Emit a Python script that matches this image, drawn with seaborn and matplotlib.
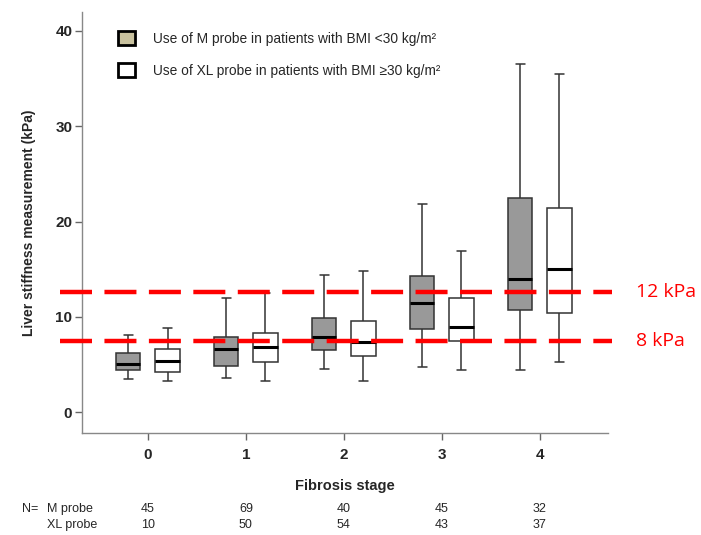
import matplotlib
matplotlib.use("Agg")
import matplotlib.pyplot as plt
import matplotlib.transforms as mtransforms
from matplotlib.patches import Patch
import pandas as pd
import seaborn as sns

# Five-number summaries (kPa)
stages = ["0", "1", "2", "3", "4"]
m_low = [3.5, 3.6, 4.5, 4.75, 4.45]
m_q1 = [4.4, 4.8, 6.55, 8.75, 10.7]
m_med = [5.05, 6.6, 7.9, 11.4, 14.0]
m_q3 = [6.2, 7.9, 9.9, 14.3, 22.5]
m_high = [8.05, 12.0, 14.4, 21.85, 36.5]

xl_low = [3.25, 3.25, 3.25, 4.45, 5.2]
xl_q1 = [4.15, 5.3, 5.9, 7.5, 10.4]
xl_med = [5.4, 6.8, 7.3, 8.9, 15.0]
xl_q3 = [6.6, 8.3, 9.6, 12.0, 21.4]
xl_high = [8.8, 12.5, 14.8, 16.9, 35.5]

n_m = [45, 69, 40, 45, 32]
n_xl = [10, 50, 54, 43, 37]

cutoffs = [12.6, 7.5]
cutoff_labels = ["12 kPa", "8 kPa"]

probes = ["M probe", "XL probe"]
legend_labels = [
    "Use of M probe in patients with BMI <30 kg/m\u00b2",
    "Use of XL probe in patients with BMI \u226530 kg/m\u00b2",
]


def summary_rows(probe, lows, q1s, meds, q3s, highs):
    rows = []
    for st, vals in zip(stages, zip(lows, q1s, meds, q3s, highs)):
        # five points -> quartiles land exactly on q1/median/q3
        for v in vals:
            rows.append({"stage": st, "probe": probe, "lsm": v})
    return rows


df = pd.DataFrame(
    summary_rows("M probe", m_low, m_q1, m_med, m_q3, m_high)
    + summary_rows("XL probe", xl_low, xl_q1, xl_med, xl_q3, xl_high)
)

sns.set_style("white")
plt.rcParams["font.family"] = ["Liberation Sans", "DejaVu Sans"]

fig = plt.figure(figsize=(7.01, 5.35), dpi=100)
ax = fig.add_axes([0.117, 0.1907, 0.75, 0.787])

sns.boxplot(
    data=df, x="stage", y="lsm", hue="probe", order=stages, hue_order=probes,
    palette={"M probe": "#999999", "XL probe": "white"},
    whis=(0, 100), width=0.8, gap=0.38, linecolor="#333333", linewidth=1.1,
    medianprops={"color": "black", "linewidth": 2.2},
    capwidths=0.09,
    ax=ax, legend=False,
)

ax.set_xlim(-0.673, 4.694)
ax.set_ylim(-2.2, 42)
ax.set_yticks([0, 10, 20, 30, 40])

for side in ["top", "right"]:
    ax.spines[side].set_visible(False)
for side in ["left", "bottom"]:
    ax.spines[side].set_color("#888888")
    ax.spines[side].set_linewidth(1.0)

ax.tick_params(axis="both", direction="out", length=5, width=1, color="#666666",
               labelsize=11, pad=2, left=True, bottom=True)
ax.tick_params(axis="x", pad=6)
for lab in ax.get_xticklabels() + ax.get_yticklabels():
    lab.set_fontweight("bold")

ax.set_xlabel("Fibrosis stage", fontsize=10.5, fontweight="bold", labelpad=12)
ax.set_ylabel("Liver stiffness measurement (kPa)", fontsize=10, fontweight="bold",
              labelpad=14)

# red cut-off lines extend past the axes
for val, lab in zip(cutoffs, cutoff_labels):
    ax.axhline(val, xmin=-0.042, xmax=1.008, color="#ff0000", linewidth=3.2,
               dashes=(7.2, 2.8), clip_on=False, zorder=5)
    ax.text(1.053, val, lab, transform=ax.get_yaxis_transform(), color="#ff0000",
            fontsize=14, family=["Open Sans", "DejaVu Sans"], va="center", ha="left")

handles = [
    Patch(facecolor="#c9c29f", edgecolor="black", linewidth=2),
    Patch(facecolor="white", edgecolor="black", linewidth=2),
]
ax.legend(handles, legend_labels, loc="upper left", bbox_to_anchor=(0.045, 0.985),
          frameon=False, fontsize=9.9, handlelength=1.25, handleheight=1.25,
          handletextpad=1.3, labelspacing=1.25)

# sample size table under the x axis
trans = mtransforms.blended_transform_factory(ax.transData, fig.transFigure)
fig.text(0.031, 0.049, "N=", fontsize=9, va="center")
fig.text(0.067, 0.049, "M probe", fontsize=9, va="center")
fig.text(0.067, 0.019, "XL probe", fontsize=9, va="center")
for i, (a, b) in enumerate(zip(n_m, n_xl)):
    ax.text(i, 0.049, str(a), transform=trans, ha="center", va="center", fontsize=9)
    ax.text(i, 0.019, str(b), transform=trans, ha="center", va="center", fontsize=9)

fig.savefig("out.png", dpi=100)
